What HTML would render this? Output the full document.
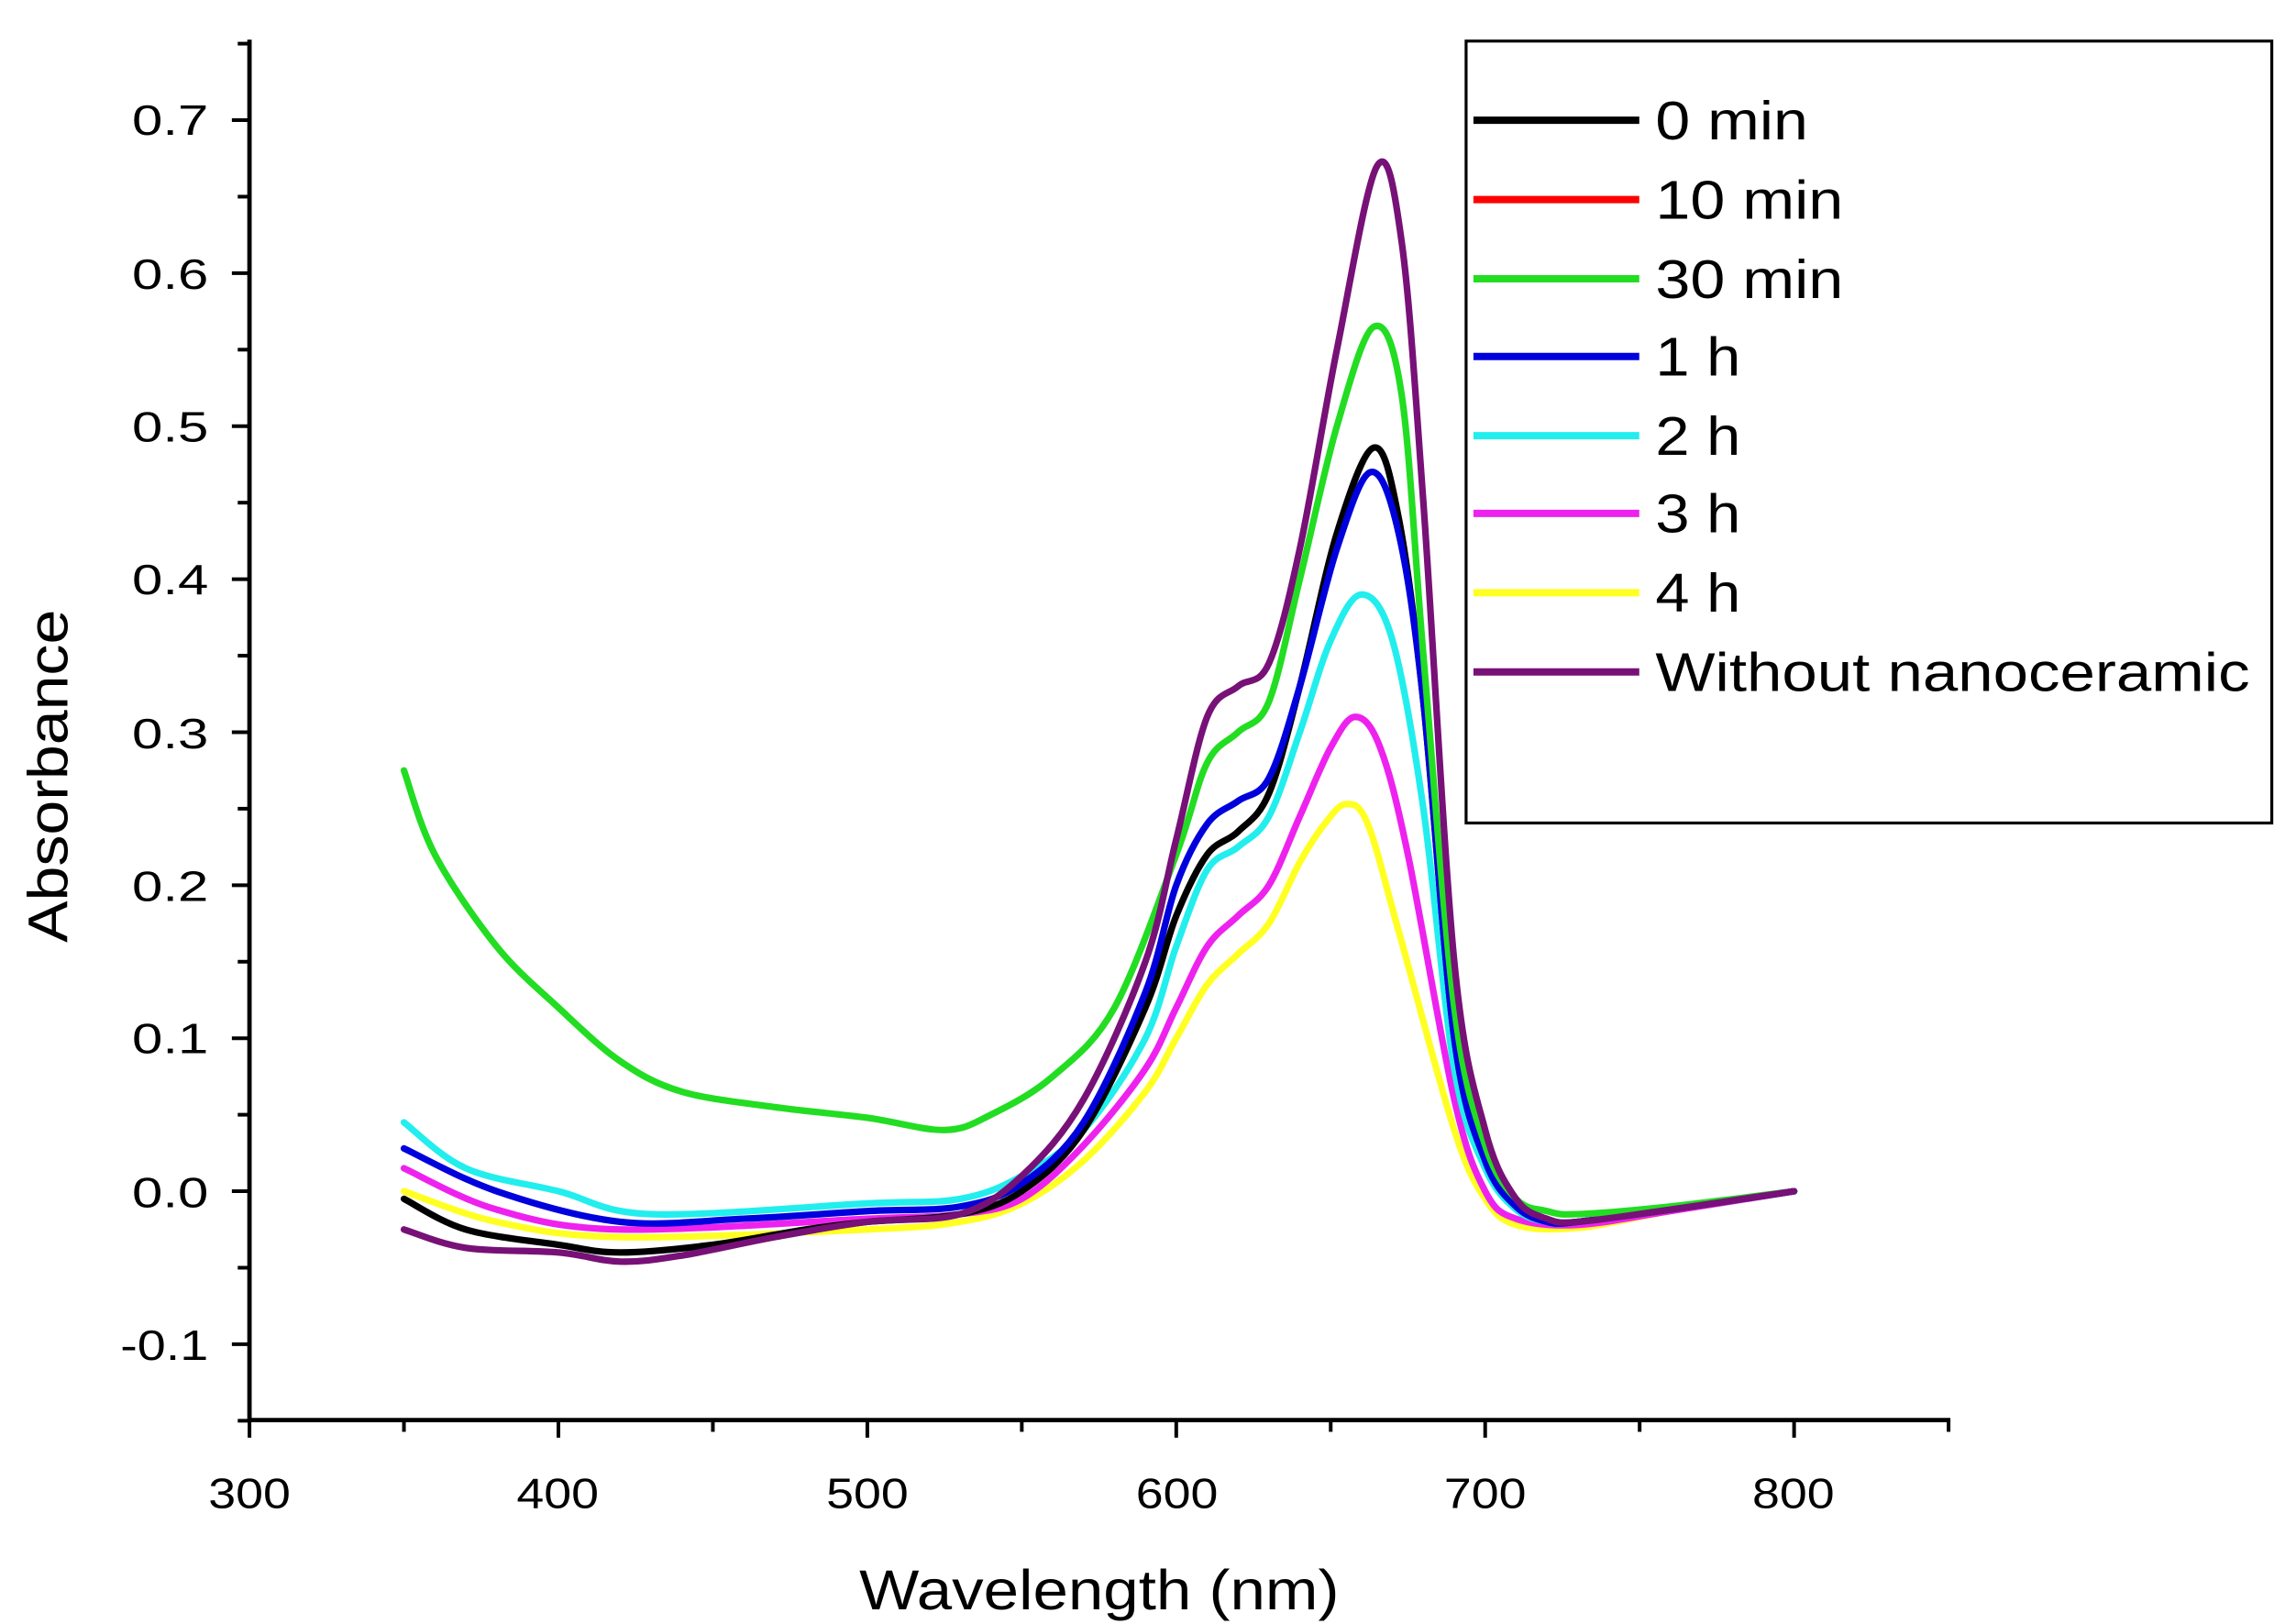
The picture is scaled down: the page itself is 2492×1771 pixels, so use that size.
<!DOCTYPE html>
<html><head><meta charset="utf-8">
<style>html,body{margin:0;padding:0;background:#fff;}svg{display:block}</style></head>
<body>
<svg id="s" width="2492" height="1771" viewBox="0 0 1557 1107" preserveAspectRatio="none" xmlns="http://www.w3.org/2000/svg" font-family="Liberation Sans, sans-serif">
<rect width="1557" height="1107" fill="#fff"/>
<g id="curves" fill="none" stroke-width="4.5" stroke-linejoin="round" stroke-linecap="round"></g>
<g stroke="#000" stroke-width="3" fill="none">
<line x1="170" y1="27" x2="170" y2="969"/>
<line x1="169" y1="968" x2="1329" y2="968"/>
</g>
<g id="ticks" stroke="#000" stroke-width="2.5"></g>
<g font-size="29" fill="#000" text-anchor="end">
<text x="142" y="92" textLength="52" lengthAdjust="spacingAndGlyphs">0.7</text><text x="142" y="197" textLength="52" lengthAdjust="spacingAndGlyphs">0.6</text><text x="142" y="301" textLength="52" lengthAdjust="spacingAndGlyphs">0.5</text>
<text x="142" y="405" textLength="52" lengthAdjust="spacingAndGlyphs">0.4</text><text x="142" y="510" textLength="52" lengthAdjust="spacingAndGlyphs">0.3</text><text x="142" y="614" textLength="52" lengthAdjust="spacingAndGlyphs">0.2</text>
<text x="142" y="718" textLength="52" lengthAdjust="spacingAndGlyphs">0.1</text><text x="142" y="823" textLength="52" lengthAdjust="spacingAndGlyphs">0.0</text><text x="142" y="927" textLength="60" lengthAdjust="spacingAndGlyphs">-0.1</text>
</g>
<g font-size="29" fill="#000" text-anchor="middle">
<text x="170" y="1028" textLength="56" lengthAdjust="spacingAndGlyphs">300</text><text x="380" y="1028" textLength="56" lengthAdjust="spacingAndGlyphs">400</text><text x="591" y="1028" textLength="56" lengthAdjust="spacingAndGlyphs">500</text>
<text x="802" y="1028" textLength="56" lengthAdjust="spacingAndGlyphs">600</text><text x="1012" y="1028" textLength="56" lengthAdjust="spacingAndGlyphs">700</text><text x="1222" y="1028" textLength="56" lengthAdjust="spacingAndGlyphs">800</text>
</g>
<text x="749" y="1097" font-size="38" text-anchor="middle" textLength="327" lengthAdjust="spacingAndGlyphs">Wavelength (nm)</text>
<text transform="translate(46,529) rotate(-90)" font-size="38" text-anchor="middle" textLength="227" lengthAdjust="spacingAndGlyphs">Absorbance</text>
<rect x="999" y="28" width="549" height="533" fill="#fff" stroke="#000" stroke-width="2"/>
<g stroke-width="5">
<line x1="1004" y1="82" x2="1117" y2="82" stroke="#000"/>
<line x1="1004" y1="136" x2="1117" y2="136" stroke="#f00"/>
<line x1="1004" y1="190" x2="1117" y2="190" stroke="#22dd22"/>
<line x1="1004" y1="243" x2="1117" y2="243" stroke="#0000dd"/>
<line x1="1004" y1="297" x2="1117" y2="297" stroke="#22eeee"/>
<line x1="1004" y1="350" x2="1117" y2="350" stroke="#ee22ee"/>
<line x1="1004" y1="404" x2="1117" y2="404" stroke="#ffff22"/>
<line x1="1004" y1="458" x2="1117" y2="458" stroke="#771177"/>
</g>
<g font-size="37" fill="#000" lengthAdjust="spacingAndGlyphs">
<text x="1128" y="95" textLength="104" lengthAdjust="spacingAndGlyphs">0 min</text><text x="1128" y="149" textLength="128" lengthAdjust="spacingAndGlyphs">10 min</text><text x="1128" y="203" textLength="128" lengthAdjust="spacingAndGlyphs">30 min</text>
<text x="1128" y="256" textLength="58" lengthAdjust="spacingAndGlyphs">1 h</text><text x="1128" y="310" textLength="58" lengthAdjust="spacingAndGlyphs">2 h</text><text x="1128" y="363" textLength="58" lengthAdjust="spacingAndGlyphs">3 h</text>
<text x="1128" y="417" textLength="58" lengthAdjust="spacingAndGlyphs">4 h</text><text x="1128" y="471" textLength="405" lengthAdjust="spacingAndGlyphs">Without nanoceramic</text>
</g>
</svg>
<script>
(function(){
var NS="http://www.w3.org/2000/svg";
function X(w){return 170+(w-300)*2.105;}
function Y(a){return 812-a*1043;}
var t=document.getElementById('ticks');
function ln(x1,y1,x2,y2){var l=document.createElementNS(NS,'line');l.setAttribute('x1',x1);l.setAttribute('y1',y1);l.setAttribute('x2',x2);l.setAttribute('y2',y2);t.appendChild(l);}
for(var w=300;w<=850;w+=50){ln(X(w),968,X(w),w%100==0?980:976);}
for(var a=-0.15;a<=0.76;a+=0.05){var aa=Math.round(a*100);ln(aa%10==0?158:162,Y(aa/100),170,Y(aa/100));}
var D={
'#ffff22':[[350,0],[380,-0.02],[420,-0.03],[500,-0.025],[530,-0.02],[550,-0.008],[570,0.02],[590,0.065],[600,0.1],[610,0.135],[620,0.155],[630,0.175],[640,0.215],[648,0.24],[655,0.253],[662,0.24],[672,0.17],[690,0.04],[700,-0.005],[710,-0.022],[730,-0.024],[760,-0.013],[800,0]],
'#ee22ee':[[350,0.015],[380,-0.012],[420,-0.025],[500,-0.018],[530,-0.015],[550,-0.005],[570,0.03],[590,0.08],[600,0.12],[610,0.16],[620,0.18],[630,0.2],[640,0.245],[650,0.29],[658,0.31],[666,0.29],[675,0.22],[690,0.06],[700,0.0],[710,-0.018],[730,-0.022],[760,-0.013],[800,0]],
'#22eeee':[[350,0.045],[370,0.015],[400,0.0],[430,-0.015],[500,-0.008],[530,-0.005],[550,0.01],[570,0.04],[590,0.1],[600,0.16],[610,0.21],[620,0.225],[630,0.245],[640,0.3],[650,0.36],[660,0.39],[670,0.36],[680,0.25],[690,0.08],[700,0.015],[710,-0.012],[720,-0.02],[730,-0.02],[760,-0.012],[800,0]],
'#000000':[[350,-0.005],[370,-0.025],[400,-0.035],[420,-0.04],[450,-0.035],[480,-0.025],[500,-0.02],[530,-0.015],[550,0.0],[570,0.04],[590,0.12],[600,0.18],[610,0.22],[620,0.235],[630,0.26],[640,0.33],[652,0.43],[664,0.486],[672,0.44],[680,0.32],[690,0.1],[700,0.02],[710,-0.01],[720,-0.02],[730,-0.02],[760,-0.012],[800,0]],
'#0000dd':[[350,0.028],[380,0.0],[420,-0.02],[460,-0.018],[500,-0.013],[530,-0.01],[550,0.005],[570,0.045],[590,0.13],[600,0.2],[610,0.24],[620,0.255],[630,0.27],[640,0.33],[652,0.42],[663,0.47],[672,0.43],[680,0.32],[690,0.1],[700,0.02],[710,-0.01],[720,-0.02],[730,-0.02],[760,-0.012],[800,0]],
'#22dd22':[[350,0.275],[360,0.22],[380,0.16],[400,0.12],[420,0.085],[440,0.065],[470,0.055],[500,0.048],[525,0.04],[540,0.05],[560,0.075],[580,0.12],[600,0.22],[610,0.28],[620,0.3],[630,0.32],[640,0.4],[652,0.5],[664,0.565],[673,0.52],[680,0.35],[690,0.12],[700,0.03],[710,-0.005],[720,-0.013],[730,-0.015],[760,-0.01],[800,0]],
'#771177':[[350,-0.025],[370,-0.037],[400,-0.04],[420,-0.046],[440,-0.042],[470,-0.03],[500,-0.02],[530,-0.015],[550,0.01],[570,0.06],[590,0.15],[600,0.23],[610,0.31],[620,0.33],[630,0.345],[640,0.42],[652,0.55],[665,0.67],[673,0.62],[680,0.45],[690,0.15],[700,0.04],[710,-0.005],[720,-0.018],[730,-0.02],[760,-0.012],[800,0]]
};
var g=document.getElementById('curves');
for(var c in D){var p=D[c].map(function(q){return [X(q[0]),Y(q[1])];});
var d='M'+p[0][0]+','+p[0][1];
for(var i=0;i<p.length-1;i++){var p0=p[i-1]||p[i],p1=p[i],p2=p[i+1],p3=p[i+2]||p2;
d+=' C'+(p1[0]+(p2[0]-p0[0])/6)+','+(p1[1]+(p2[1]-p0[1])/6)+' '+(p2[0]-(p3[0]-p1[0])/6)+','+(p2[1]-(p3[1]-p1[1])/6)+' '+p2[0]+','+p2[1];}
var e=document.createElementNS(NS,'path');e.setAttribute('d',d);e.setAttribute('stroke',c);g.appendChild(e);}
})();
</script>
</body></html>
